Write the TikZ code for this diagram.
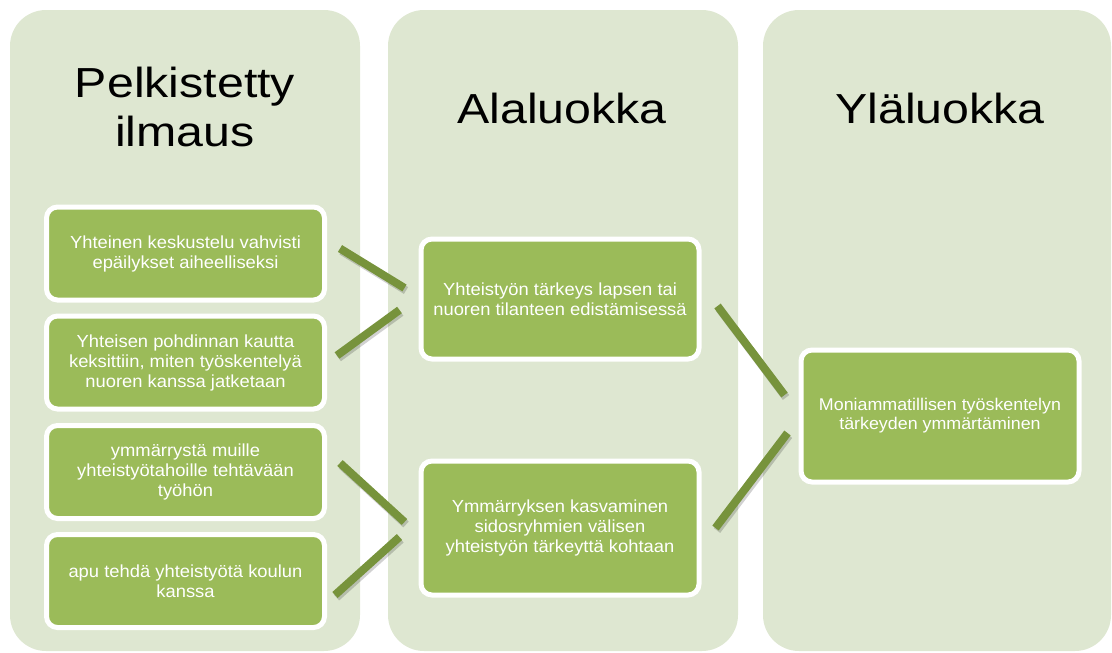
\documentclass[tikz,border=0pt]{standalone}
\usepackage{fontspec}
\setmainfont{Liberation Sans}
\newfontfamily\ttlfont[FakeStretch=1.15]{Liberation Sans}
\newfontfamily\boxfont[FakeStretch=1.05]{Liberation Sans}
\usepackage{tikz}
\usetikzlibrary{positioning, calc}
\definecolor{vaalea}{RGB}{222, 231, 209}
\definecolor{vihrea}{RGB}{155, 187, 89}
\definecolor{tumma}{RGB}{119, 147, 60}
\tikzset{
    sarake/.style={fill=vaalea, draw=none, rounded corners=36pt},
    otsikko/.style={align=center, text=black, font=\ttlfont\fontsize{42}{49}\selectfont},
    laatikko/.style={draw=white, line width=5pt, fill=vihrea, rounded corners=11pt, text=white, align=center, minimum width=278pt, inner sep=4pt, font=\boxfont\fontsize{17.5}{20}\selectfont},
    conn/.style={-, tumma, line width=8pt, preaction={draw=black, opacity=0.18, line width=8pt, transform canvas={shift={(1.5pt,-2.5pt)}}}},
}

\begin{document}
\begin{tikzpicture}[x=1pt, y=-1pt]
    \useasboundingbox (0,0) rectangle (1112,653);

    % sarakkeet
    \fill[sarake] (10,10) rectangle (360,651);
    \fill[sarake] (388,10) rectangle (738,651);
    \fill[sarake] (763,10) rectangle (1111,651);

    \node[otsikko] (t1) at (185,107) {Pelkistetty\\ilmaus};
    \node[otsikko] (t2) at (562,108) {Alaluokka};
    \node[otsikko] (t3) at (940,108) {Yläluokka};

    % pelkistetyt ilmaukset
    \node[laatikko, minimum height=93pt] (l1) at (185.5,253.5) {Yhteinen keskustelu vahvisti\\epäilykset aiheelliseksi};
    \node[laatikko, minimum height=93pt] (l2) at (185.5,362.5) {Yhteisen pohdinnan kautta\\keksittiin, miten työskentelyä\\nuoren kanssa jatketaan};
    \node[laatikko, minimum height=93pt] (l3) at (185.5,472) {ymmärrystä muille\\yhteistyötahoille tehtävään\\työhön};
    \node[laatikko, minimum height=93pt] (l4) at (185.5,581) {apu tehdä yhteistyötä koulun\\kanssa};

    % alaluokat
    \node[laatikko, minimum height=120pt] (a1) at (560,299) {Yhteistyön tärkeys lapsen tai\\nuoren tilanteen edistämisessä};
    \node[laatikko, minimum height=134pt] (a2) at (560,528) {Ymmärryksen kasvaminen\\sidosryhmien välisen\\yhteistyön tärkeyttä kohtaan};

    % yläluokka
    \node[laatikko, minimum height=132pt, font=\boxfont\fontsize{17}{19}\selectfont] (y1) at (940,416) {Moniammatillisen työskentelyn\\tärkeyden ymmärtäminen};

    \draw[conn] ($(l1.east)+(13,-5)$) -- ($(a1.west)+(-14,-11)$);
    \draw[conn] ($(l2.east)+(10,-7)$) -- ($(a1.west)+(-19,11)$);
    \draw[conn] ($(l3.east)+(13,-9)$) -- ($(a2.west)+(-14,-6)$);
    \draw[conn] ($(l4.east)+(8,14)$) -- ($(a2.west)+(-19,9)$);

    \draw[conn] ($(a1.east)+(16,7)$) -- ($(y1.west)+(-14,-21)$);
    \draw[conn] ($(a2.east)+(14,0)$) -- ($(y1.west)+(-11,17)$);
\end{tikzpicture}
\end{document}
